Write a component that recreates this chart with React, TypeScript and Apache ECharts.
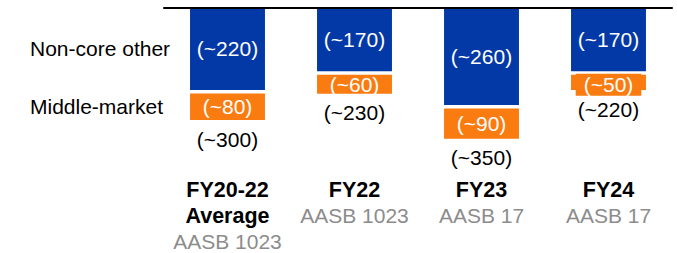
import { useEffect, useRef } from 'react';
import * as echarts from 'echarts';

const categories = ['FY20-22\nAverage', 'FY22', 'FY23', 'FY24'];
const standards = ['AASB 1023', 'AASB 1023', 'AASB 17', 'AASB 17'];
const seriesNames = ['Non-core other', 'Middle-market'];
const nonCoreOther = [220, 170, 260, 170];
const middleMarket = [80, 60, 90, 50];

const BLUE = '#0339A6';
const ORANGE = '#FA7B10';
const GRAY = '#8C8C8C';
const FONT = '"Liberation Sans", Arial, Helvetica, sans-serif';
const FS = 21;

export default function App() {
  const ref = useRef<HTMLDivElement>(null);

  useEffect(() => {
    const chart = echarts.init(ref.current!, null, { renderer: 'svg' });
    const GAP = 3.5;
    const BAR_RATIO = 0.59;

    const option: any = {
      animation: false,
      grid: { left: 164, right: 5, top: 7.5, bottom: 80.5 },
      xAxis: [
        {
          type: 'category',
          data: categories,
          position: 'bottom',
          axisLine: { show: false, onZero: false },
          axisTick: { show: false },
          axisLabel: {
            interval: 0,
            margin: 5,
            formatter: (value: string, index: number) =>
              value
                .split('\n')
                .map((s) => `{b|${s}}`)
                .join('\n') + `\n{g|${standards[index]}}`,
            rich: {
              b: { fontWeight: 'bold', fontSize: 21.5, color: '#000', lineHeight: 25.5, fontFamily: FONT },
              g: { fontSize: FS, color: GRAY, lineHeight: 25.5, fontFamily: FONT },
            },
          },
        },
        {
          type: 'category',
          data: categories,
          position: 'top',
          z: 10,
          axisLine: { show: true, onZero: false, lineStyle: { color: '#000', width: 2 } },
          axisTick: { show: false },
          axisLabel: { show: false },
        },
      ],
      yAxis: { type: 'value', min: -440, max: 0, show: false },
      series: [
        {
          type: 'bar',
          name: seriesNames[0],
          data: nonCoreOther.map((v) => -v),
          barWidth: `${BAR_RATIO * 100}%`,
          itemStyle: { color: BLUE },
          label: {
            show: true,
            position: 'inside',
            color: '#fff',
            fontSize: FS,
            fontFamily: FONT,
            formatter: (p: any) => `(~${-p.value})`,
          },
        },
        {
          type: 'custom',
          name: seriesNames[1],
          data: middleMarket.map((v, i) => [i, nonCoreOther[i], v]),
          encode: { x: 0, y: 2 },
          renderItem: (params: any, api: any) => {
            const i = api.value(0);
            const b = api.value(1);
            const o = api.value(2);
            const top = api.coord([i, -b]);
            const bot = api.coord([i, -(b + o)]);
            const w = api.size([1, 0])[0] * BAR_RATIO;
            const y0 = top[1] + GAP;
            const h = bot[1] - y0;
            const small = h < 16;
            return {
              type: 'group',
              children: [
                {
                  type: 'rect',
                  shape: { x: top[0] - w / 2, y: y0, width: w, height: h },
                  style: { fill: ORANGE },
                },
                {
                  type: 'text',
                  x: top[0],
                  y: small ? y0 - 1 : y0 + h / 2,
                  style: {
                    text: `(~${o})`,
                    fill: '#fff',
                    fontSize: FS,
                    fontFamily: FONT,
                    align: 'center',
                    verticalAlign: small ? 'top' : 'middle',
                    lineHeight: 22,
                    backgroundColor: small ? ORANGE : 'transparent',
                    padding: small ? [0, 8] : 0,
                  },
                },
                {
                  type: 'text',
                  x: top[0],
                  y: bot[1] + 19,
                  style: {
                    text: `(~${b + o})`,
                    fill: '#000',
                    fontSize: FS,
                    fontFamily: FONT,
                    align: 'center',
                    verticalAlign: 'middle',
                  },
                },
              ],
            };
          },
        },
      ],
      graphic: [
        {
          type: 'text',
          left: 30,
          top: 49.5 - 11.5,
          style: { text: seriesNames[0], fill: '#000', fontSize: FS, fontFamily: FONT },
        },
        {
          type: 'text',
          left: 30,
          top: 107 - 11.5,
          style: { text: seriesNames[1], fill: '#000', fontSize: FS, fontFamily: FONT },
        },
      ],
    };

    chart.setOption(option);
    return () => chart.dispose();
  }, []);

  return (
    <div
      ref={ref}
      style={{ position: 'fixed', left: 0, top: 0, width: 677, height: 253, background: '#fff' }}
    />
  );
}
